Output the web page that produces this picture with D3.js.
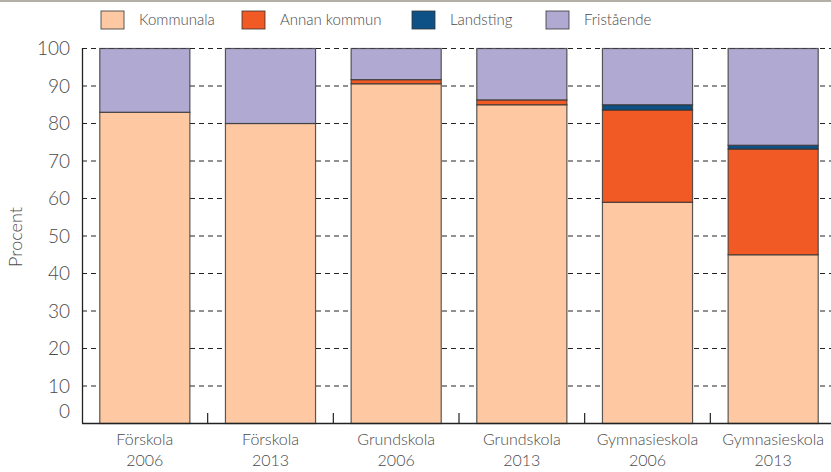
<!DOCTYPE html>
<meta charset="utf-8">
<style>
  body { margin: 0; background: #fff; font-family: 'Lato', sans-serif; }
  svg text { fill: #4a4a4a; }
</style>
<svg width="831" height="472"></svg>
<script src="https://d3js.org/d3.v7.min.js"></script>
<script>
  // data
  var categories = ["Förskola|2006", "Förskola|2013", "Grundskola|2006", "Grundskola|2013", "Gymnasieskola|2006", "Gymnasieskola|2013"];
  var keys = ["Kommunala", "Annan kommun", "Landsting", "Fristående"];
  var kommunala = [83, 80, 90.6, 85, 59, 45];
  var annanKommun = [0, 0, 1.1, 1.3, 24.6, 28.2];
  var landsting = [0, 0, 0, 0, 1.4, 1.0];
  var fristaende = [17, 20, 8.3, 13.7, 15, 25.8];
  var yTicks = [0, 10, 20, 30, 40, 50, 60, 70, 80, 90, 100];
  var colors = ["#fdc8a2", "#f15a24", "#0e5186", "#b0aad3"];

  var data = categories.map(function(c, i) {
    return {cat: c, "Kommunala": kommunala[i], "Annan kommun": annanKommun[i], "Landsting": landsting[i], "Fristående": fristaende[i]};
  });

  var svg = d3.select("svg");

  // thin rule across the top
  svg.append("line").attr("x1", 0).attr("x2", 831).attr("y1", 1).attr("y2", 1)
    .attr("stroke", "#b3aea6").attr("stroke-width", 2);

  var x = d3.scaleBand().domain(categories).range([82, 836])
    .paddingInner(0.283).paddingOuter(0.1415);
  var y = d3.scaleLinear().domain([0, 100]).range([423.5, 48.5]);
  var z = d3.scaleOrdinal().domain(keys).range(colors);

  // dashed grid
  svg.append("g").selectAll("line")
    .data(yTicks.filter(function(d) { return d > 0; }))
    .enter().append("line")
    .attr("x1", 82).attr("x2", 831)
    .attr("y1", function(d) { return y(d); })
    .attr("y2", function(d) { return y(d); })
    .attr("stroke", "#222").attr("stroke-dasharray", "5,4");

  // stacked bars
  svg.append("g")
    .selectAll("g")
    .data(d3.stack().keys(keys)(data))
    .enter().append("g")
    .attr("fill", function(d) { return z(d.key); })
    .selectAll("rect")
    .data(function(d) { return d.filter(function(s) { return s[1] - s[0] > 0; }); })
    .enter().append("rect")
    .attr("x", function(d) { return x(d.data.cat); })
    .attr("y", function(d) { return y(d[1]); })
    .attr("height", function(d) { return y(d[0]) - y(d[1]); })
    .attr("width", x.bandwidth())
    .attr("stroke", "#333").attr("stroke-opacity", 0.8).attr("stroke-width", 1.2);

  // axes
  svg.append("line").attr("x1", 82.5).attr("x2", 82.5).attr("y1", 48).attr("y2", 423.5)
    .attr("stroke", "#222").attr("stroke-width", 1.3);
  svg.append("line").attr("x1", 82).attr("x2", 831).attr("y1", 423.5).attr("y2", 423.5)
    .attr("stroke", "#222").attr("stroke-width", 1.6);

  // small separators between categories
  svg.append("g").selectAll("line")
    .data(categories.slice(1))
    .enter().append("line")
    .attr("x1", function(d) { return x(d) - x.step() * x.paddingInner() / 2; })
    .attr("x2", function(d) { return x(d) - x.step() * x.paddingInner() / 2; })
    .attr("y1", 413).attr("y2", 423)
    .attr("stroke", "#222").attr("stroke-width", 1.2);

  // y tick labels
  svg.append("g").selectAll("text")
    .data(yTicks)
    .enter().append("text")
    .attr("x", 70)
    .attr("y", function(d) { return d === 0 ? y(d) - 12 : y(d); })
    .attr("dy", "0.35em")
    .attr("text-anchor", "end")
    .attr("font-size", 19)
    .attr("font-weight", 300)
    .text(function(d) { return d; });

  svg.append("text")
    .attr("transform", "translate(22,237) rotate(-90)")
    .attr("text-anchor", "middle")
    .attr("font-size", 18)
    .attr("font-weight", 300)
    .text("Procent");

  // category labels
  var cl = svg.append("g").selectAll("text")
    .data(categories)
    .enter().append("text")
    .attr("text-anchor", "middle")
    .attr("font-size", 16)
    .attr("font-weight", 300);
  cl.append("tspan")
    .attr("x", function(d) { return x(d) + x.bandwidth() / 2; })
    .attr("y", 445)
    .text(function(d) { return d.split("|")[0]; });
  cl.append("tspan")
    .attr("x", function(d) { return x(d) + x.bandwidth() / 2; })
    .attr("y", 466)
    .text(function(d) { return d.split("|")[1]; });

  // legend
  var legendX = [101, 242, 412, 546];
  var legend = svg.append("g").selectAll("g")
    .data(keys)
    .enter().append("g")
    .attr("transform", function(d, i) { return "translate(" + legendX[i] + ",11)"; });
  legend.append("rect")
    .attr("width", 23).attr("height", 18)
    .attr("fill", z)
    .attr("stroke", "#333").attr("stroke-opacity", 0.8);
  legend.append("text")
    .attr("x", 38).attr("y", 9).attr("dy", "0.35em")
    .attr("font-size", 15)
    .attr("font-weight", 300)
    .text(function(d) { return d; });
</script>
